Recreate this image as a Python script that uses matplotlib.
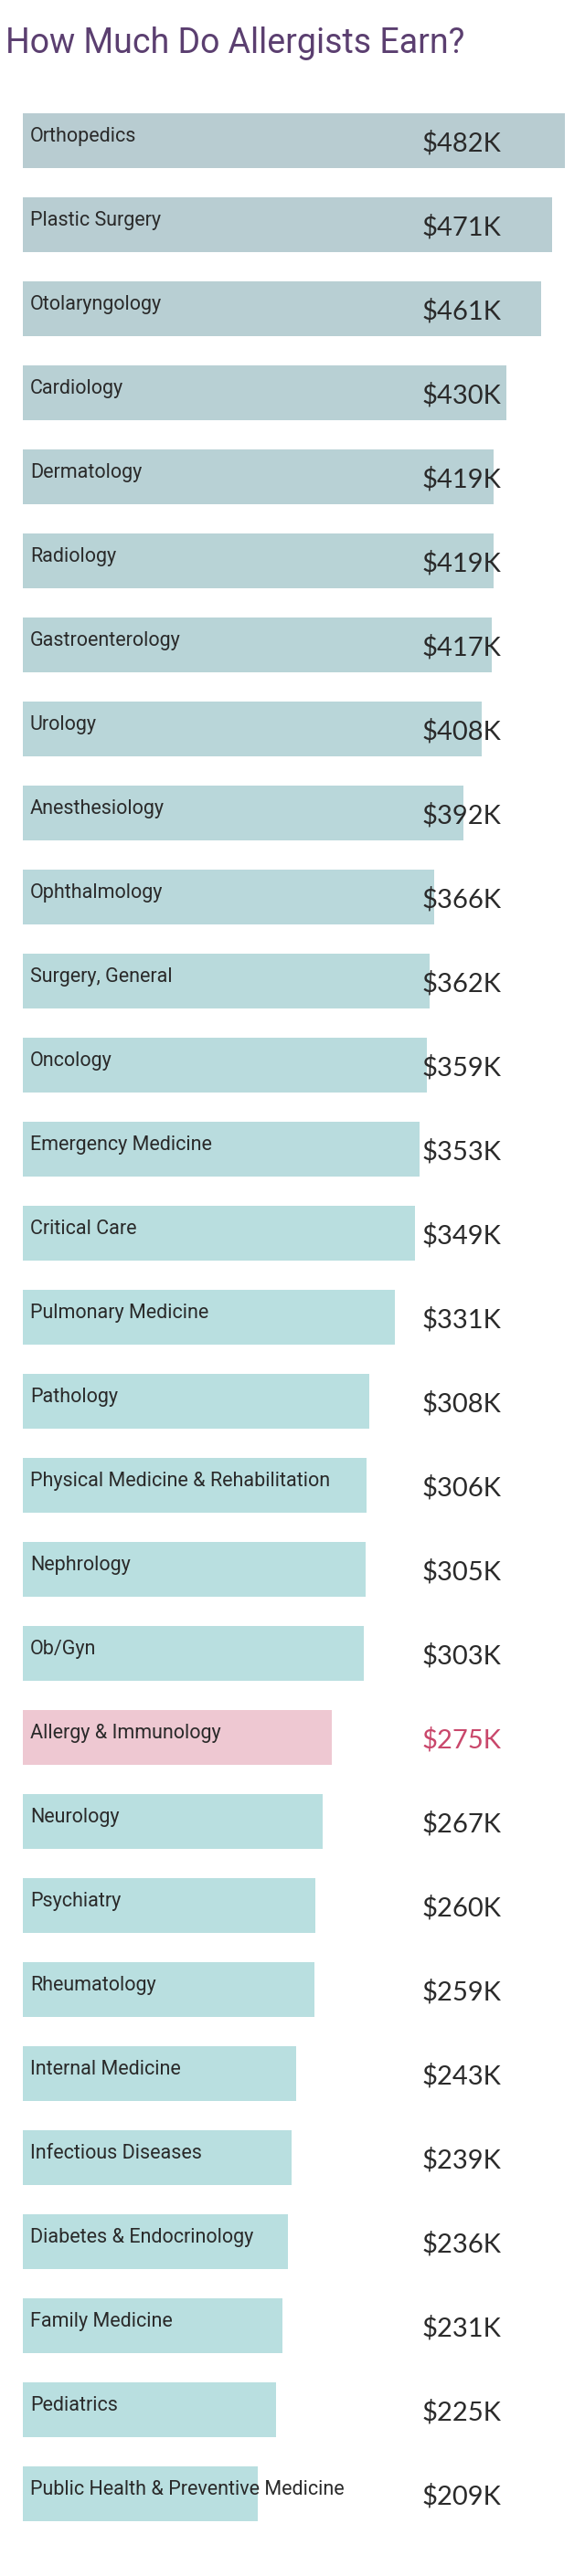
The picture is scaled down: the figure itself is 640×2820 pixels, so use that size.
import matplotlib
matplotlib.use("Agg")
import matplotlib.pyplot as plt
from matplotlib import font_manager as fm

categories = ["Orthopedics", "Plastic Surgery", "Otolaryngology", "Cardiology", "Dermatology",
              "Radiology", "Gastroenterology", "Urology", "Anesthesiology", "Ophthalmology",
              "Surgery, General", "Oncology", "Emergency Medicine", "Critical Care",
              "Pulmonary Medicine", "Pathology", "Physical Medicine & Rehabilitation",
              "Nephrology", "Ob/Gyn", "Allergy & Immunology", "Neurology", "Psychiatry",
              "Rheumatology", "Internal Medicine", "Infectious Diseases",
              "Diabetes & Endocrinology", "Family Medicine", "Pediatrics",
              "Public Health & Preventive Medicine"]
values = [482, 471, 461, 430, 419, 419, 417, 408, 392, 366, 362, 359, 353, 349, 331,
          308, 306, 305, 303, 275, 267, 260, 259, 243, 239, 236, 231, 225, 209]
highlight = "Allergy & Immunology"

names = {f.name for f in fm.fontManager.ttflist}
label_font = "Liberation Sans Narrow" if "Liberation Sans Narrow" in names else "Roboto"

W, H = 640, 2820
fig = plt.figure(figsize=(W/100, H/100), dpi=100)
fig.patch.set_facecolor("white")

x0 = 25; pxk = 1.23
top0 = 124; pitch = 92; bh = 60
n = len(categories)
# axes: y index 0 at center of first bar
yc0 = top0 + bh/2
ax_top = yc0 - pitch/2
ax_bot = yc0 + (n - 0.5)*pitch
ax = fig.add_axes([x0/W, 1 - ax_bot/H, 1 - x0/W, (ax_bot - ax_top)/H])
ax.set_xlim(0, (W - x0)/pxk)
ax.set_ylim(n - 0.5, -0.5)
ax.axis("off")

def mix(c1, c2, t):
    return tuple(a + (b - a)*t for a, b in zip(c1, c2))
grey = (0xb8/255, 0xcc/255, 0xd1/255)
teal = (0xb9/255, 0xdf/255, 0xe0/255)

for i, (c, v) in enumerate(zip(categories, values)):
    hl = c == highlight
    col = "#eec8d2" if hl else mix(grey, teal, min(1, i/14))
    ax.barh(i, v, height=bh/pitch, color=col, left=0)
    ax.text(6.5, i - 0.05, c, fontsize=15.5, family=[label_font, "DejaVu Sans"],
            color="#2a2a2a", va="center", ha="left")
    ax.text(355, i + 0.03, f"${v}K", fontsize=21, family=["Lato", "DejaVu Sans"],
            color="#c9476b" if hl else "#2a2a2a", va="center", ha="left")

fig.text(6/W, 1 - 48/H, "How Much Do Allergists Earn?", fontsize=27,
         family=[label_font, "DejaVu Sans"], color="#5b3f70", va="center", ha="left")

fig.savefig("out.png", dpi=100, facecolor="white")
